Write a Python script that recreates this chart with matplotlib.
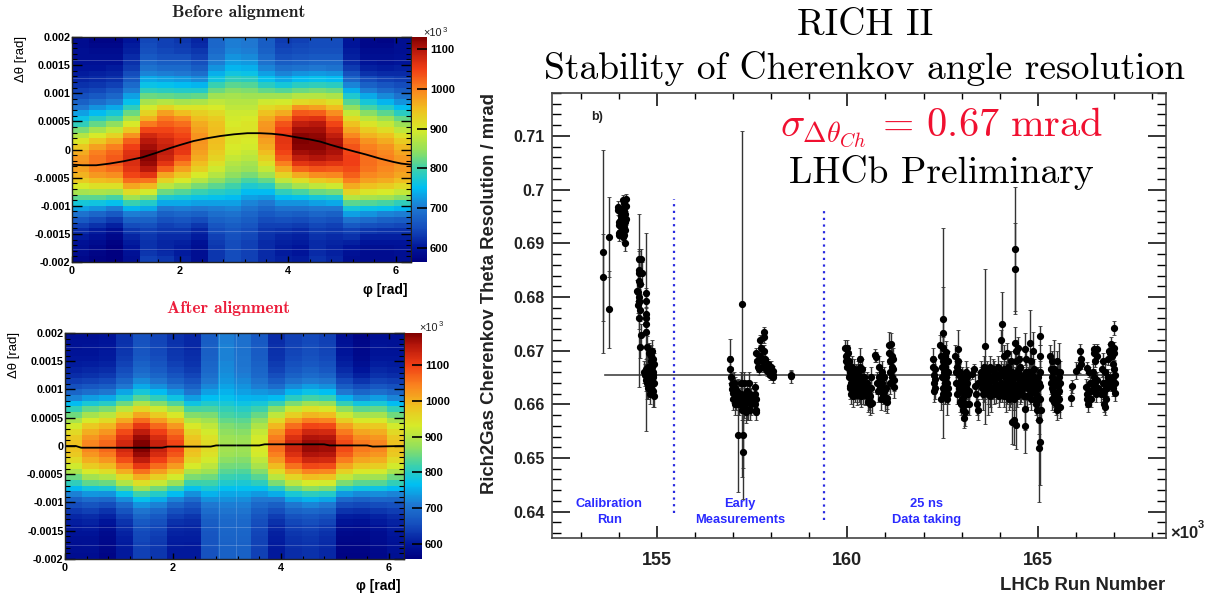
"""RICH II alignment maps and Cherenkov angle resolution stability."""
import matplotlib

matplotlib.use("Agg")
import matplotlib.pyplot as plt
import numpy as np
from matplotlib.colors import LinearSegmentedColormap, Normalize
from matplotlib.ticker import FixedLocator, MultipleLocator

W, H = 1215, 596
plt.rcParams["font.family"] = ["Liberation Sans", "DejaVu Sans"]
plt.rcParams["mathtext.fontset"] = "cm"

# --------------------------------------------------------------------------- #
# Data
# --------------------------------------------------------------------------- #

# one list per phi bin, top row (+0.002) first
before_cols = [
    [585,585,590,590,595,600,605,615,625,640,655,675,700,730,760,790,830,870,905,940,
     965,980,985,975,960,935,900,860,815,770,730,695,665,640,620,605,595,590,585,580],
    [575,580,585,590,595,600,610,620,630,645,665,690,720,750,785,820,860,900,940,975,
     1000,1010,1010,1000,980,950,910,865,815,765,720,680,650,625,605,595,585,580,575,570],
    [575,580,585,590,595,605,615,625,640,660,680,705,735,770,805,845,885,925,965,1000,
     1020,1030,1030,1015,990,955,910,860,805,755,705,665,635,610,590,580,570,565,565,565],
    [600,605,610,620,625,635,650,665,685,705,730,755,790,825,860,900,940,985,1025,1050,
     1065,1070,1070,1060,1045,1015,970,915,855,795,745,705,675,650,630,615,605,600,595,590],
    [645,650,655,665,680,695,710,735,760,790,825,860,895,925,960,1005,1045,1075,1095,1110,
     1125,1125,1115,1095,1060,1010,955,895,835,780,735,700,675,655,640,630,625,625,630,640],
    [640,640,645,655,670,685,705,730,755,785,820,870,925,975,1005,1025,1045,1060,1075,1085,
     1090,1080,1060,1025,970,925,875,825,775,735,700,675,655,640,630,620,615,615,620,630],
    [630,635,640,655,670,685,700,725,750,780,815,860,905,950,990,1015,1035,1045,1055,1060,
     1055,1035,1005,975,940,900,855,810,770,735,705,680,660,645,630,620,610,605,605,610],
    [615,620,630,640,655,670,690,715,745,780,820,865,905,930,950,965,975,985,985,980,
     975,965,950,930,900,870,830,795,760,730,700,675,650,630,615,605,595,590,590,590],
    [680,680,685,695,705,720,740,765,795,825,855,880,900,920,935,945,950,950,950,945,
     935,925,910,890,870,845,815,785,755,730,705,690,675,660,650,640,635,630,630,630],
    [705,705,710,720,730,745,765,790,815,840,860,870,880,890,895,900,905,905,905,900,
     895,885,870,860,845,825,800,775,750,730,710,695,680,670,660,655,650,650,650,650],
    [700,700,705,715,725,740,760,785,810,835,855,870,880,890,900,905,905,905,900,895,
     885,875,860,850,830,805,775,750,730,710,695,680,670,660,650,645,640,640,640,640],
    [670,670,675,685,695,710,730,755,785,820,855,890,920,945,965,980,985,985,975,965,
     950,930,910,885,855,820,785,750,725,700,680,665,650,640,630,625,620,620,620,620],
    [635,640,645,655,670,690,710,735,770,810,855,895,930,965,1005,1035,1050,1060,1060,1055,
     1045,1030,1000,965,925,880,835,790,750,720,695,675,655,640,625,615,610,605,605,610],
    [640,645,650,660,675,695,720,750,785,825,870,920,985,1030,1060,1090,1110,1125,1130,1125,
     1110,1090,1060,1020,965,910,860,805,755,720,695,670,650,635,620,610,605,600,600,605],
    [650,650,655,665,680,700,725,755,790,830,870,925,975,1025,1065,1095,1110,1120,1125,1125,
     1115,1100,1070,1035,990,935,880,825,770,730,700,680,660,645,635,625,620,620,620,625],
    [650,650,655,665,680,695,720,750,785,825,865,910,950,990,1020,1045,1070,1090,1105,1110,
     1105,1090,1060,1030,995,945,890,830,775,735,700,675,655,640,630,620,615,610,610,615],
    [600,600,605,610,620,635,655,680,710,740,775,810,845,885,915,945,970,995,1020,1035,
     1045,1050,1050,1040,1025,1000,965,925,870,815,770,730,695,665,640,625,610,600,595,590],
    [580,580,585,590,600,610,625,650,675,705,735,770,805,840,875,905,935,960,985,1000,
     1010,1015,1015,1010,995,975,945,905,860,810,760,720,685,655,630,610,600,590,585,585],
    [575,580,585,590,595,605,620,640,660,685,715,745,780,815,850,885,915,945,965,985,
     995,1000,1000,995,985,965,935,900,855,805,755,710,675,650,625,610,600,590,585,585],
    [590,590,590,595,600,610,620,635,650,670,695,720,750,785,820,850,880,910,935,955,
     970,980,985,980,970,950,920,885,840,790,745,705,670,645,625,610,600,595,590,590],
]

after_cols = [
    [590,591,592,595,598,604,612,622,637,657,685,720,764,811,851,890,926,953,973,985,
     985,973,953,925,889,849,809,761,717,681,653,633,617,607,599,593,590,587,586,585],
    [590,591,593,595,599,606,615,626,644,667,698,739,788,842,887,932,973,1004,1027,1040,
     1040,1026,1004,972,931,885,840,785,735,694,662,640,621,610,601,594,590,588,586,585],
    [595,596,598,601,604,611,621,633,651,675,708,750,802,858,905,952,995,1027,1051,1065,
     1065,1050,1025,991,946,897,847,788,733,689,654,629,610,597,587,580,576,573,571,570],
    [625,626,628,631,635,643,653,665,686,711,746,792,847,908,958,1009,1054,1090,1115,1130,
     1130,1114,1088,1050,1003,950,897,833,775,727,690,664,642,629,619,611,606,603,601,600],
    [660,661,663,666,671,679,689,702,724,750,787,835,893,957,1010,1063,1110,1148,1174,1190,
     1190,1173,1146,1107,1058,1003,948,882,821,772,733,706,684,670,659,651,647,643,641,640],
    [645,646,648,651,655,662,672,685,704,729,764,808,863,922,972,1021,1066,1100,1125,1140,
     1140,1125,1099,1063,1018,967,916,854,798,752,717,691,671,658,648,640,636,633,631,630],
    [625,626,628,631,634,641,651,663,681,705,738,780,832,888,935,982,1024,1057,1081,1095,
     1095,1080,1055,1021,976,927,877,818,763,719,684,659,640,627,617,610,606,603,601,600],
    [615,616,617,620,623,628,636,645,660,679,705,739,780,825,863,900,934,960,979,990,
     990,978,959,932,896,857,818,772,729,694,666,647,631,621,614,608,605,602,601,600],
    [675,676,677,678,681,685,690,697,708,722,741,766,796,829,857,884,909,928,942,950,
     950,941,927,907,880,851,822,788,756,730,709,695,683,676,670,666,663,662,661,660],
    [715,715,716,717,718,721,724,729,735,744,756,771,790,810,827,844,860,871,880,885,
     885,879,869,854,836,815,795,770,748,729,715,705,696,691,687,684,682,681,680,680],
    [700,700,701,702,704,706,710,714,722,731,743,759,779,801,819,837,853,866,875,880,
     880,874,864,850,832,812,792,768,746,728,714,704,696,691,687,684,682,681,680,680],
    [670,671,672,673,675,679,685,691,702,715,734,757,787,818,845,871,895,914,927,935,
     935,926,911,891,864,835,805,770,737,711,690,675,664,656,650,646,644,642,641,640],
    [620,621,623,625,629,635,644,655,673,695,726,765,814,866,910,954,994,1025,1047,1060,
     1060,1046,1023,991,950,904,858,802,752,710,678,655,637,625,616,609,606,603,601,600],
    [640,641,643,646,650,657,667,680,699,724,759,803,858,917,967,1016,1061,1095,1120,1135,
     1135,1120,1094,1058,1011,960,908,847,790,744,708,682,661,648,638,630,626,623,621,620],
    [650,651,653,656,660,668,679,692,713,739,776,823,881,944,997,1049,1096,1133,1159,1175,
     1175,1159,1131,1093,1043,988,933,867,807,757,719,691,669,655,644,636,632,628,626,625],
    [640,641,643,646,651,659,669,682,704,730,767,815,873,937,990,1043,1090,1128,1154,1170,
     1170,1153,1126,1087,1037,981,926,859,798,748,709,682,659,646,634,626,622,618,616,615],
    [590,591,593,596,600,608,618,630,650,675,710,755,810,870,920,970,1015,1050,1075,1090,
     1090,1074,1048,1011,964,912,859,796,738,691,654,628,607,594,583,576,571,568,566,565],
    [570,571,573,576,580,587,596,608,628,652,685,728,781,839,887,935,978,1012,1036,1050,
     1050,1035,1011,977,934,885,837,778,725,681,647,623,604,592,582,575,571,568,566,565],
    [590,591,593,595,599,606,615,626,644,667,698,739,788,842,887,932,973,1004,1027,1040,
     1040,1026,1003,970,928,882,835,780,728,687,654,631,612,601,591,584,581,578,576,575],
    [590,591,592,595,598,604,612,622,637,657,685,720,764,811,851,890,926,953,973,985,
     985,973,953,926,890,851,811,764,720,685,657,637,622,612,604,598,595,592,591,590],
]

before_fit_phi = [0, 0.2, 0.45, 0.7, 0.95, 1.15, 1.3, 1.56, 1.8, 2.0, 2.25, 2.5, 2.75, 3.0, 3.25, 3.48, 3.7,
                  3.9, 4.2, 4.4, 4.6, 4.8, 5.02, 5.25, 5.45, 5.7, 5.95, 6.1, 6.28]
before_fit_val = [-0.00027, -0.00028, -0.00028, -0.00025, -0.00021, -0.00017, -0.00014, -0.00006, 0.00002,
                  0.00008, 0.00015, 0.0002, 0.00024, 0.00027, 0.00029, 0.00029, 0.00028, 0.00026, 0.00021,
                  0.00018, 0.00014, 0.00008, 0.00002, -0.00004, -0.00009, -0.00016, -0.00022, -0.00025,
                  -0.00027]
after_fit_phi = [0, 0.2, 0.3, 1.8, 1.9, 2.7, 2.8, 3.6, 3.7, 4.8, 4.9, 5.6, 5.7, 6.28]
after_fit_val = [0.0, 0.0, -0.00003, -0.00003, -0.00001, -0.00001, 0.00001, 0.00001,
                 0.00003, 0.00003, 0.00001, 0.00001, -0.00001, 0.0]

theta_ticks = [0.002, 0.0015, 0.001, 0.0005, 0, -0.0005, -0.001, -0.0015, -0.002]
theta_labels = ["0.002", "0.0015", "0.001", "0.0005", "0", "-0.0005", "-0.001", "-0.0015", "-0.002"]
phi_ticks = [0, 2, 4, 6]

before_bar_ticks = [600, 700, 800, 900, 1000, 1100]
after_bar_ticks = [600, 700, 800, 900, 1000, 1100]

# (run / 1000, resolution, error)
calib_points = [
    (153.59,.6884,.0189),(153.59,.6837,.0081),(153.75,.6912,.0075),(153.75,.6777,.0072),
    (153.99,.6968,.001),(153.99,.6962,.001),(154.0,.6935,.001),(154.0,.6920,.001),(154.02,.6940,.001),
    (154.02,.6915,.001),(154.05,.6950,.001),(154.05,.6945,.001),(154.05,.6930,.001),(154.08,.6960,.001),
    (154.08,.6950,.001),(154.08,.6935,.001),(154.12,.6980,.001),(154.12,.6965,.001),(154.12,.6950,.001),
    (154.12,.6940,.001),(154.12,.6925,.001),(154.12,.6912,.001),(154.15,.6975,.001),(154.15,.6960,.001),
    (154.15,.6945,.001),(154.15,.6930,.001),(154.15,.6915,.001),(154.17,.6955,.001),(154.17,.6940,.001),
    (154.17,.6925,.001),(154.19,.6982,.001),(154.19,.6970,.001),(154.19,.6945,.001),(154.17,.6900,.0015),
    (154.48,.6812,.002),(154.5,.6810,.004),(154.52,.6850,.0035),(154.52,.6800,.002),(154.53,.6870,.002),
    (154.53,.6845,.002),(154.54,.6790,.002),(154.55,.6775,.002),(154.5,.6785,.002),(154.52,.6760,.002),
    (154.54,.6830,.002),(154.56,.6825,.002),(154.58,.6870,.002),(154.6,.6845,.002),(154.52,.6793,.0161),
    (154.58,.6729,.002),(154.55,.6707,.002),
    (154.72,.6807,.001),(154.72,.6792,.001),(154.71,.6769,.001),(154.72,.6760,.001),(154.72,.6750,.001),
    (154.72,.6735,.0185),(154.73,.6707,.002),
    (154.67,.6660,.002),(154.7,.6655,.002),(154.72,.6645,.002),(154.73,.6665,.002),(154.75,.6640,.003),
    (154.76,.6670,.002),(154.78,.6650,.002),(154.78,.6630,.002),(154.8,.6695,.002),(154.8,.6660,.002),
    (154.82,.6640,.002),(154.82,.6620,.002),(154.84,.6690,.002),(154.84,.6665,.002),(154.85,.6650,.002),
    (154.86,.6680,.002),(154.86,.6635,.002),(154.88,.6700,.002),(154.88,.6670,.002),(154.89,.6655,.002),
    (154.9,.6685,.002),(154.9,.6625,.003),(154.91,.6660,.002),(154.92,.6675,.002),(154.92,.6615,.002),
    (154.93,.6640,.002),
    (154.74,.6655,.002),(154.76,.6650,.002),(154.78,.6660,.002),(154.8,.6645,.002),(154.82,.6665,.002),
    (154.84,.6640,.002),(154.87,.6650,.002),(154.72,.6665,.002),(154.88,.6645,.002),(154.9,.6650,.002),
]

early_points = [
    (156.91,.6685,.0037),(156.93,.6665,.0025),(156.94,.6650,.002),(156.96,.6638,.002),(156.98,.6628,.002),
    (157.0,.6622,.002),(157.02,.6640,.002),(157.04,.6615,.002),(157.06,.6630,.002),(157.09,.6610,.002),
    (157.1,.6625,.002),(157.12,.6600,.002),(157.14,.6615,.002),(157.12,.6542,.0105),(157.24,.6787,.0322),
    (157.25,.6542,.006),(157.25,.6512,.0088),(157.2,.6640,.002),(157.22,.6620,.002),(157.24,.6605,.002),
    (157.26,.6590,.002),(157.28,.6640,.002),(157.3,.6615,.002),(157.32,.6600,.002),(157.34,.6585,.002),
    (157.36,.6625,.002),(157.38,.6605,.002),(157.4,.6590,.002),(157.42,.6640,.002),(157.44,.6620,.002),
    (157.46,.6600,.002),(157.58,.6632,.001),(157.58,.6620,.001),(157.6,.6610,.001),(157.57,.6600,.001),
    (157.6,.6590,.001),(157.59,.6585,.0015),(157.6,.6695,.001),(157.63,.6680,.001),(157.66,.6670,.001),
    (157.68,.6665,.001),(157.7,.6690,.001),(157.72,.6720,.001),(157.74,.6705,.001),(157.75,.6680,.001),
    (157.78,.6670,.001),(157.8,.6735,.001),(157.82,.6725,.001),(157.82,.6700,.001),(157.84,.6685,.001),
    (157.86,.6670,.001),(157.88,.6662,.001),(157.92,.6675,.001),(157.94,.6660,.001),(157.96,.6655,.001),
    (158.0,.6670,.001),(158.02,.6660,.001),(158.04,.6650,.001),(158.06,.6655,.001),(158.05,.6662,.001),
    (158.52,.6655,.0008),(158.52,.6652,.0012),
    (157.05,.6600,.002),(157.08,.6625,.002),(157.15,.6600,.002),(157.2,.6610,.002),(157.23,.6590,.002),
    (157.28,.6615,.002),(157.3,.6595,.002),(157.34,.6610,.002),(157.37,.6590,.002),(157.41,.6610,.002),
    (157.44,.6590,.002),(157.48,.6610,.002),(157.0,.6610,.002),
]

data_taking_points = [
    (159.95,.6705,.0015),(159.96,.6690,.0015),(159.97,.6680,.0015),(159.98,.6670,.0015),(160.0,.6705,.0015),
    (160.02,.6695,.0015),(160.02,.6677,.0015),
    (160.05,.6680,.002),(160.05,.6650,.002),(160.06,.6630,.002),(160.08,.6660,.002),(160.09,.6640,.002),
    (160.1,.6620,.002),(160.12,.6670,.002),(160.13,.6650,.002),(160.14,.6630,.002),(160.16,.6615,.002),
    (160.18,.6665,.002),(160.19,.6645,.002),(160.2,.6625,.002),(160.22,.6655,.002),(160.24,.6635,.002),
    (160.25,.6618,.002),(160.27,.6660,.002),(160.29,.6645,.002),(160.3,.6625,.002),(160.32,.6685,.002),
    (160.33,.6670,.002),(160.34,.6650,.002),(160.35,.6630,.002),(160.37,.6615,.002),(160.39,.6665,.002),
    (160.4,.6640,.002),(160.42,.6620,.002),(160.44,.6650,.002),(160.46,.6630,.002),(160.47,.6618,.002),
    (160.52,.6640,.002),(160.54,.6625,.002),(160.55,.6605,.002),(160.57,.6610,.002),(160.59,.6600,.002),
    (160.6,.6615,.002),(160.62,.6650,.002),(160.63,.6630,.002),(160.64,.6603,.002),
    (160.73,.6691,.0012),(160.75,.6688,.001),
    (160.78,.6640,.002),(160.8,.6625,.002),(160.83,.6670,.002),(160.84,.6650,.002),(160.86,.6630,.002),
    (160.87,.6610,.002),(160.9,.6660,.002),(160.92,.6640,.002),(160.93,.6620,.002),(160.96,.6650,.002),
    (160.97,.6625,.002),(160.99,.6608,.002),(161.01,.6630,.002),(161.03,.6612,.002),(161.04,.6604,.002),
    (161.08,.6710,.0025),(161.1,.6695,.002),(161.11,.6680,.002),(161.12,.6660,.002),(161.13,.6640,.002),
    (161.15,.6712,.002),(161.16,.6690,.002),(161.17,.6670,.002),(161.18,.6650,.002),(161.2,.6685,.002),
    (161.21,.6665,.002),(161.22,.6645,.002),(161.23,.6632,.002),
    (162.24,.6685,.002),(162.25,.6670,.002),(162.26,.6655,.002),(162.27,.6640,.002),(162.28,.6625,.002),
    (162.29,.6665,.002),(162.3,.6648,.002),(162.31,.6630,.002),
    (162.5,.6759,.006),(162.5,.6733,.0195),(162.44,.6710,.002),(162.46,.6690,.002),(162.48,.6670,.002),
    (162.5,.6650,.002),(162.52,.6630,.002),(162.46,.6610,.002),(162.55,.6690,.002),(162.56,.6670,.002),
    (162.58,.6650,.002),(162.6,.6630,.002),(162.62,.6610,.003),(162.63,.6680,.002),(162.65,.6660,.002),
    (162.65,.6620,.002),(162.52,.6705,.002),(162.6,.6698,.002),
    (162.83,.6690,.002),(162.84,.6660,.002),(162.86,.6640,.002),(162.87,.6620,.002),(162.9,.6703,.0035),
    (162.91,.6680,.002),(162.92,.6655,.002),(162.93,.6630,.002),(162.95,.6605,.002),(162.97,.6600,.002),
    (162.98,.6645,.002),(163.0,.6625,.002),(163.02,.6610,.002),(163.04,.6590,.002),(163.06,.6640,.002),
    (163.08,.6585,.0025),(163.1,.6620,.002),(163.1,.6600,.002),(163.12,.6660,.002),(163.14,.6640,.002),
    (163.16,.6620,.002),(163.18,.6600,.002),(163.05,.6575,.002),
    (163.28,.6657,.001),(163.32,.6665,.001),(163.36,.6635,.002),(163.38,.6620,.002),(163.4,.6600,.002),
    (163.42,.6590,.002),(163.44,.6640,.002),
    (163.5,.6660,.002),(163.52,.6640,.002),(163.55,.6620,.003),(163.58,.6670,.002),(163.6,.6650,.002),
    (163.62,.6630,.002),(163.6,.6708,.0145),(163.66,.6660,.002),(163.68,.6640,.002),(163.7,.6620,.004),
    (163.74,.6670,.002),(163.76,.6650,.002),(163.78,.6625,.004),(163.82,.6665,.002),(163.84,.6645,.002),
    (163.86,.6620,.002),(163.9,.6655,.002),(163.92,.6635,.002),(163.96,.6670,.002),(163.98,.6650,.002),
    (164.0,.6625,.002),
    (164.05,.6750,.006),(164.04,.6719,.002),
    (164.1,.6690,.002),(164.12,.6665,.002),(164.14,.6640,.002),(164.16,.6615,.003),(164.2,.6695,.002),
    (164.22,.6670,.002),(164.24,.6650,.002),(164.26,.6625,.003),(164.3,.6680,.002),(164.32,.6660,.002),
    (164.34,.6640,.002),(164.36,.6620,.003),(164.39,.6889,.0115),(164.39,.6853,.0085),(164.4,.6715,.003),
    (164.42,.6700,.002),(164.43,.6680,.002),(164.44,.6660,.002),(164.45,.6635,.002),(164.46,.6615,.002),
    (164.48,.6705,.002),(164.49,.6685,.002),(164.5,.6665,.002),(164.51,.6640,.002),(164.52,.6620,.002),
    (164.54,.6670,.002),(164.54,.6645,.002),
    (164.33,.6567,.004),(164.38,.6570,.0045),(164.42,.6562,.0045),
    (164.67,.6592,.004),(164.67,.6559,.005),(164.66,.6703,.003),(164.68,.6685,.002),(164.68,.6660,.002),
    (164.7,.6635,.002),(164.72,.6615,.002),(164.8,.6715,.006),(164.76,.6660,.002),(164.78,.6635,.002),
    (164.82,.6680,.002),(164.84,.6655,.002),(164.85,.6625,.002),(164.88,.6700,.0035),(164.9,.6665,.002),
    (164.92,.6640,.002),(164.94,.6620,.002),(164.96,.6600,.002),(164.98,.6590,.002),(165.0,.6630,.002),
    (165.06,.6728,.0018),(165.06,.6690,.002),(165.05,.6529,.008),(165.03,.6518,.0100),(165.05,.6660,.002),
    (165.05,.6635,.002),(165.06,.6610,.002),(165.07,.6590,.002),(165.04,.6570,.0025),
    (165.32,.6690,.002),(165.33,.6665,.002),(165.34,.6640,.002),(165.36,.6630,.002),(165.38,.6680,.002),
    (165.39,.6660,.002),(165.4,.6625,.002),(165.41,.6605,.002),(165.43,.6665,.002),(165.44,.6645,.002),
    (165.46,.6620,.002),(165.47,.6600,.002),(165.49,.6590,.002),(165.5,.6680,.002),(165.52,.6660,.002),
    (165.53,.6635,.002),(165.55,.6610,.002),(165.57,.6595,.002),(165.58,.6660,.002),(165.59,.6640,.002),
    (165.42,.6665,.0055),(165.55,.6650,.0065),
    (165.89,.6634,.0012),(165.88,.6611,.0015),
    (166.0,.6663,.0015),(166.08,.6670,.0012),(166.1,.6700,.0012),(166.12,.6685,.0012),(166.14,.6675,.001),
    (166.3,.6668,.001),(166.34,.6660,.001),(166.26,.6632,.0015),(166.28,.6620,.0015),(166.3,.6610,.0015),
    (166.32,.6600,.0015),(166.36,.6640,.0015),(166.4,.6625,.0015),(166.42,.6640,.0015),(166.44,.6660,.0015),
    (166.46,.6703,.001),(166.48,.6695,.001),(166.5,.6680,.001),(166.54,.6703,.001),(166.55,.6690,.001),
    (166.47,.6650,.0015),(166.5,.6635,.0015),(166.52,.6620,.0015),(166.56,.6645,.0015),(166.58,.6630,.0015),
    (166.66,.6620,.0015),(166.68,.6665,.0015),(166.7,.6640,.0015),(166.72,.6620,.0015),(166.74,.6600,.0015),
    (166.76,.6595,.0015),(166.78,.6610,.0015),(166.72,.6680,.0015),(166.76,.6660,.0015),(166.79,.6640,.0015),
    (166.82,.6630,.0015),(166.85,.6650,.0015),
    (166.85,.6685,.0012),(166.87,.6700,.0012),(166.9,.6695,.0012),(166.92,.6713,.0012),(166.94,.6690,.0012),
    (166.96,.6676,.0012),(166.96,.6650,.0015),(166.98,.6630,.0015),(166.99,.6743,.0013),(167.0,.6705,.0012),
    (167.0,.6665,.0015),(167.01,.6640,.0015),(167.02,.6622,.0015),(167.03,.6655,.0015),(167.0,.6695,.0012),
    # packed middle of the clusters
    (163.5,.6650,.002),(163.53,.6630,.002),(163.56,.6645,.002),(163.59,.6625,.002),(163.62,.6655,.002),
    (163.65,.6635,.002),(163.68,.6620,.002),(163.71,.6650,.002),(163.72,.6632,.002),(163.75,.6615,.002),
    (163.79,.6645,.002),(163.81,.6630,.002),(163.85,.6660,.002),(163.88,.6640,.002),(163.89,.6622,.002),
    (163.93,.6650,.002),(163.95,.6630,.002),(163.97,.6615,.002),(164.02,.6660,.002),(164.03,.6640,.002),
    (164.06,.6625,.002),(164.08,.6655,.002),(164.1,.6635,.002),(164.11,.6615,.002),(164.13,.6650,.002),
    (164.15,.6625,.002),(164.17,.6660,.002),(164.18,.6640,.002),(164.19,.6620,.002),(164.21,.6650,.002),
    (164.23,.6630,.002),(164.25,.6610,.002),(164.27,.6660,.002),(164.28,.6640,.002),(164.29,.6620,.002),
    (164.31,.6650,.002),(164.33,.6630,.002),(164.35,.6655,.002),(164.37,.6635,.002),(164.38,.6610,.002),
    (164.41,.6650,.002),(164.43,.6625,.002),(164.47,.6650,.002),(164.49,.6630,.002),(164.53,.6655,.002),
    (164.55,.6625,.002),(164.57,.6640,.002),(164.6,.6650,.002),(164.62,.6630,.002),(164.64,.6615,.002),
    (164.69,.6645,.002),(164.73,.6630,.002),(164.75,.6650,.002),(164.79,.6620,.002),(164.81,.6640,.002),
    (164.83,.6610,.002),(164.87,.6650,.002),(164.89,.6630,.002),(164.91,.6610,.002),(164.95,.6640,.002),
    (164.97,.6615,.002),(164.99,.6650,.002),(165.02,.6640,.002),(165.03,.6610,.002),
    (162.88,.6670,.002),(162.95,.6660,.002),(162.97,.6640,.002),(163.0,.6650,.002),(163.02,.6635,.002),
    (163.05,.6615,.002),(163.08,.6625,.002),(163.12,.6630,.002),(163.15,.6650,.002),(163.18,.6625,.002),
    (162.47,.6650,.002),(162.5,.6680,.002),(162.5,.6620,.002),(162.53,.6660,.002),(162.55,.6640,.002),
    (162.57,.6620,.002),(162.6,.6660,.002),(162.62,.6640,.002),(162.64,.6630,.002),
    (160.08,.6635,.002),(160.15,.6640,.002),(160.2,.6640,.002),(160.26,.6630,.002),(160.33,.6620,.002),
    (160.38,.6640,.002),(160.42,.6650,.002),(160.45,.6630,.002),(160.09,.6655,.002),(160.25,.6650,.002),
    (165.36,.6650,.002),(165.4,.6645,.002),(165.42,.6615,.002),(165.46,.6640,.002),(165.5,.6620,.002),
    (165.54,.6625,.002),(165.56,.6640,.002),(165.38,.6610,.002),(165.48,.6610,.002),
    (166.7,.6625,.0015),(166.74,.6625,.0015),(166.78,.6630,.0015),(166.88,.6645,.0015),(166.92,.6640,.0015),
    (166.98,.6650,.0015),(167.0,.6640,.0015),(166.46,.6630,.0015),(166.35,.6625,.0015),(166.38,.6610,.0015),
]

mean_resolution = 0.6655
mean_run_range = [153.65, 167.0]
period_runs = [155.44, 159.38]
period_top = [0.6983, 0.6961]
period_bottom = [0.6397, 0.6384]
period_labels = [(153.75, "Calibration\nRun"), (157.18, "Early\nMeasurements"), (162.09, "25 ns\nData taking")]

res_ticks = [0.64, 0.65, 0.66, 0.67, 0.68, 0.69, 0.70, 0.71]
res_labels = ["0.64", "0.65", "0.66", "0.67", "0.68", "0.69", "0.7", "0.71"]
run_ticks = [155, 160, 165]

# rainbow palette of the ROOT maps
palette = LinearSegmentedColormap.from_list("root_rainbow", [
    (0.00, (0.00, 0.00, 0.50)), (0.06, (0.00, 0.08, 0.60)), (0.15, (0.08, 0.30, 0.74)),
    (0.24, (0.12, 0.47, 0.82)), (0.33, (0.00, 0.75, 0.95)), (0.415, (0.24, 0.82, 0.67)),
    (0.50, (0.59, 0.88, 0.35)), (0.59, (0.84, 0.92, 0.16)), (0.68, (0.94, 0.75, 0.12)),
    (0.77, (0.98, 0.51, 0.12)), (0.86, (0.94, 0.24, 0.08)), (0.95, (0.70, 0.08, 0.04)),
    (1.00, (0.50, 0.00, 0.00)),
])


def px_axes(fig, left, top, right, bottom):
    return fig.add_axes([left / W, 1 - bottom / H, (right - left) / W, (bottom - top) / H])


def put_text(fig, x, y, text, **kw):
    kw.setdefault("ha", "center")
    kw.setdefault("va", "center")
    fig.text(x / W, 1 - y / H, text, **kw)


def draw_map(fig, box, bar_box, cols, vrange, bar_ticks, fit_phi, fit_val, seams_h, seams_v):
    ax = px_axes(fig, *box)
    cax = px_axes(fig, *bar_box)
    cells = np.array(cols).T
    phi_edges = np.linspace(0, 6.28, cells.shape[1] + 1)
    theta_edges = np.linspace(0.002, -0.002, cells.shape[0] + 1)
    norm = Normalize(*vrange)
    mesh = ax.pcolormesh(phi_edges, theta_edges, cells, cmap=palette, norm=norm, rasterized=True)
    ax.plot(fit_phi, fit_val, color="black", lw=1.3)
    for val in seams_h:
        ax.axhline(val, color="white", lw=0.6, alpha=0.25)
    for val in seams_v:
        ax.axvline(val, color="white", lw=0.6, alpha=0.2)
    ax.set_xlim(0, 6.28)
    ax.set_ylim(-0.002, 0.002)
    ax.set_xticks(phi_ticks)
    ax.set_xticklabels(phi_ticks, fontsize=7.8, fontweight="bold")
    ax.set_yticks(theta_ticks)
    ax.set_yticklabels(theta_labels, fontsize=7.8, fontweight="bold")
    ax.xaxis.set_minor_locator(MultipleLocator(0.4))
    ax.yaxis.set_minor_locator(MultipleLocator(0.0001))
    ax.tick_params(axis="x", which="major", direction="in", length=4.5, width=1, top=True, pad=3)
    ax.tick_params(axis="x", which="minor", direction="in", length=2.2, width=0.8, top=True)
    ax.tick_params(axis="y", which="major", direction="in", length=7.2, width=1, right=True, pad=1)
    ax.tick_params(axis="y", which="minor", direction="in", length=3.6, width=0.8, right=True)
    for spine in ax.spines.values():
        spine.set_linewidth(1)
        spine.set_color("#222222")

    bar = fig.colorbar(mesh, cax=cax)
    bar.set_ticks(bar_ticks)
    bar.minorticks_off()
    bar.outline.set_visible(False)
    cax.tick_params(axis="y", direction="in", length=7.2, width=1.2, pad=2, labelsize=8)
    for lab in cax.get_yticklabels():
        lab.set_fontweight("bold")
    return ax


fig = plt.figure(figsize=(W / 100, H / 100), dpi=100)

# --------------------------------------------------------------------------- #
# Alignment maps
# --------------------------------------------------------------------------- #

draw_map(fig, (72, 37, 411, 262), (412, 37, 427, 262), before_cols, (565, 1130), before_bar_ticks,
         before_fit_phi, before_fit_val, [0.0016, 0.00128, -0.00144, -0.00176], [])
draw_map(fig, (65, 333, 404, 559), (405, 333, 422, 559), after_cols, (558, 1190), after_bar_ticks,
         after_fit_phi, after_fit_val, [0.00176, -0.00144, -0.00176], [2.85, 3.17])

put_text(fig, 239, 13, "Before alignment", family="cmb10", fontsize=12.7, color="#222222")
put_text(fig, 228, 309, "After alignment", family="cmb10", fontsize=12.6, color="#ec1e3c")
put_text(fig, 21, 59, "\u0394\u03b8 [rad]", rotation=90, fontsize=9.5)
put_text(fig, 14, 355, "\u0394\u03b8 [rad]", rotation=90, fontsize=9.5)
put_text(fig, 385, 290, "\u03c6 [rad]", fontsize=10, fontweight="bold")
put_text(fig, 378, 586, "\u03c6 [rad]", fontsize=10, fontweight="bold")
put_text(fig, 432, 33, "\u00d710", fontsize=7.8, color="#222222")
put_text(fig, 445, 30, "3", fontsize=5.5, color="#222222")
put_text(fig, 428, 328, "\u00d710", fontsize=7.8, color="#222222")
put_text(fig, 441, 325, "3", fontsize=5.5, color="#222222")

# --------------------------------------------------------------------------- #
# Stability plot
# --------------------------------------------------------------------------- #

ax = px_axes(fig, 552, 93, 1166, 538)
ax.set_xlim(152.25, 168.36)
ax.set_ylim(0.6351, 0.718)
ax.plot(mean_run_range, [mean_resolution, mean_resolution], color="#444444", lw=1.2, zorder=1)
for points in (calib_points, early_points, data_taking_points):
    run, res, err = np.array(points).T
    ax.errorbar(run, res, yerr=err, fmt="o", ms=4.2, color="black", ecolor="#333333",
                elinewidth=1.0, capsize=1.1, capthick=0.6, zorder=2)
for run, top, bottom in zip(period_runs, period_top, period_bottom):
    ax.plot([run, run], [bottom, top], color="#2a2ae0", lw=1.6, ls=(0, (1, 2)), zorder=1)

ax.set_xticks(run_ticks)
ax.set_xticklabels(run_ticks, fontsize=13, fontweight="bold", color="#222222")
ax.set_yticks(res_ticks)
ax.set_yticklabels(res_labels, fontsize=11.5, fontweight="bold", color="#222222")
ax.xaxis.set_minor_locator(FixedLocator(np.arange(153, 169)))
ax.yaxis.set_minor_locator(MultipleLocator(0.002))
ax.tick_params(axis="x", which="major", direction="in", length=9, width=1.1, top=True, pad=10)
ax.tick_params(axis="x", which="minor", direction="in", length=4.5, width=1, top=True)
ax.tick_params(axis="y", which="major", direction="in", length=13, width=1.1, right=True, pad=5)
ax.tick_params(axis="y", which="minor", direction="in", length=6.5, width=1, right=True)
for spine in ax.spines.values():
    spine.set_linewidth(1.2)
    spine.set_color("#444444")

for run, label in period_labels:
    name, sub = label.split("\n")
    x = 656.7 + (run - 155) * 38.1
    put_text(fig, x, 504, name, fontsize=9.3, fontweight="bold", color="#2a2aff")
    put_text(fig, x, 520, sub, fontsize=9.3, fontweight="bold", color="#2a2aff")

put_text(fig, 597, 117, "b)", fontsize=9, fontweight="bold", color="#222222")
put_text(fig, 865, 25, "RICH II", family="cmr10", fontsize=27)
put_text(fig, 865, 69, "Stability of Cherenkov angle resolution", family="cmr10", fontsize=27)
put_text(fig, 941, 128, r"$\sigma_{\Delta\theta_{Ch}}\,=\,0.67\ \mathrm{mrad}$", fontsize=29, color="#f01030")
put_text(fig, 941, 172, "LHCb Preliminary", family="cmr10", fontsize=27)
put_text(fig, 490, 293, "Rich2Gas Cherenkov Theta Resolution / mrad", rotation=90,
         fontsize=13.3, fontweight="bold", color="#222222")
put_text(fig, 1083, 586, "LHCb Run Number", fontsize=13.3, fontweight="bold", color="#222222")
put_text(fig, 1184, 533, "\u00d710", fontsize=12, fontweight="bold", color="#222222")
put_text(fig, 1201, 525, "3", fontsize=8, fontweight="bold", color="#222222")

fig.savefig("out.png", dpi=100)
plt.close(fig)
